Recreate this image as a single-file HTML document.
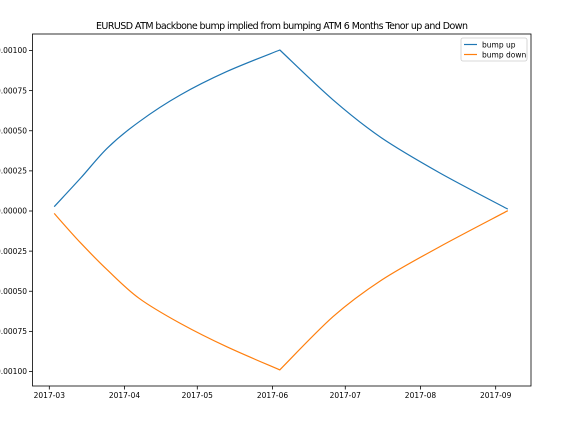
<!DOCTYPE html>
<html><head><meta charset="utf-8"><style>
html,body{margin:0;padding:0;background:#fff;}
svg{display:block;font-family:"DejaVu Sans","Liberation Sans",sans-serif;}
</style></head><body>
<svg id="chart" width="586" height="422">
<text x="282" y="29" font-size="9.5" text-anchor="middle" textLength="372" fill="#000">EURUSD ATM backbone bump implied from bumping ATM 6 Months Tenor up and Down</text>
<g id="grid"></g>
<g id="series"></g>
<rect x="32.5" y="34" width="498.5" height="352" fill="none" stroke="#000" stroke-width="0.8"/>
<g>
<rect x="461" y="38" width="66" height="23" fill="#fff" stroke="#ccc" stroke-width="0.8" rx="2"/>
<line x1="464" y1="44.5" x2="477" y2="44.5" stroke="#1f77b4" stroke-width="1.2"/>
<text x="482" y="47.5" font-size="7.5">bump up</text>
<line x1="464" y1="54.5" x2="477" y2="54.5" stroke="#ff7f0e" stroke-width="1.2"/>
<text x="482" y="57.5" font-size="7.5">bump down</text>
</g>
</svg>
<script>
const upDates = ["2017-03-03","2017-03-14","2017-03-25","2017-04-07","2017-04-24","2017-05-13","2017-06-04","2017-06-26","2017-07-16","2017-08-09","2017-09-06"];
const upValues = [0.000027,0.000206,0.000393,0.000556,0.000723,0.000868,0.001003,0.000692,0.000455,0.000237,0.000012];
const downDates = ["2017-03-03","2017-03-14","2017-03-25","2017-04-07","2017-04-24","2017-05-13","2017-06-04","2017-06-26","2017-07-16","2017-08-09","2017-09-06"];
const downValues = [-0.000015,-0.0002,-0.000368,-0.000544,-0.0007,-0.000845,-0.00099,-0.000658,-0.00043,-0.000222,0.000002];
const xTickDates = ["2017-03-01","2017-04-01","2017-05-01","2017-06-01","2017-07-01","2017-08-01","2017-09-01"];
const xTickLabels = ["2017-03","2017-04","2017-05","2017-06","2017-07","2017-08","2017-09"];
const yTickValues = [0.001,0.00075,0.0005,0.00025,0,-0.00025,-0.0005,-0.00075,-0.001];
const yTickLabels = ["0.00100","0.00075","0.00050","0.00025","0.00000","-0.00025","-0.00050","-0.00075","-0.00100"];

const NS="http://www.w3.org/2000/svg";
const t0=Date.parse("2017-03-01T00:00:00Z");
function xScale(d){const days=(Date.parse(d+"T00:00:00Z")-t0)/86400000;return 49.3+days*2.426;}
function yScale(v){return 211-v*160500;}
const grid=document.getElementById("grid");
const series=document.getElementById("series");
function mk(tag,attrs,parent){const e=document.createElementNS(NS,tag);for(const k in attrs)e.setAttribute(k,attrs[k]);parent.appendChild(e);return e;}
xTickDates.forEach((d,i)=>{
  const x=xScale(d);
  const l=mk("line",{x1:x,x2:x,y1:386,y2:389.5,stroke:"#000","stroke-width":0.8},grid);
  
  
  const t=mk("text",{x:x,y:398,"font-size":7.5,"text-anchor":"middle"},grid);
  t.textContent=xTickLabels[i];
  
  
});
yTickValues.forEach((v,i)=>{
  const y=yScale(v);
  const l=mk("line",{x1:29,x2:32.5,y1:y,y2:y,stroke:"#000","stroke-width":0.8},grid);
  
  
  const t=mk("text",{x:27,y:y+2.7,"font-size":7.5,"text-anchor":"end"},grid);
  t.textContent=yTickLabels[i];
  
  
});
function smoothSeg(p){
  let d="";
  for(let i=0;i<p.length-1;i++){
    const p0=p[i-1]||p[i],p1=p[i],p2=p[i+1],p3=p[i+2]||p[i+1];
    const c1x=p1[0]+(p2[0]-p0[0])/6,c1y=p1[1]+(p2[1]-p0[1])/6;
    const c2x=p2[0]-(p3[0]-p1[0])/6,c2y=p2[1]-(p3[1]-p1[1])/6;
    d+=` C${c1x.toFixed(1)},${c1y.toFixed(1)} ${c2x.toFixed(1)},${c2y.toFixed(1)} ${p2[0].toFixed(1)},${p2[1].toFixed(1)}`;
  }
  return d;
}
function line(dates,vals,color,name){
  const pts=dates.map((d,i)=>[xScale(d),yScale(vals[i])]);
  let k=0;vals.forEach((v,i)=>{if(Math.abs(v)>Math.abs(vals[k]))k=i;});
  const a=pts.slice(0,k+1),b=pts.slice(k);
  const d="M"+pts[0][0].toFixed(1)+","+pts[0][1].toFixed(1)+smoothSeg(a)+smoothSeg(b);
  const p=mk("path",{d:d,fill:"none",stroke:color,"stroke-width":1.2,"stroke-linejoin":"round"},series);
  
  
}
line(upDates,upValues,"#1f77b4","bump-up-line");
line(downDates,downValues,"#ff7f0e","bump-down-line");
</script>
</body></html>
